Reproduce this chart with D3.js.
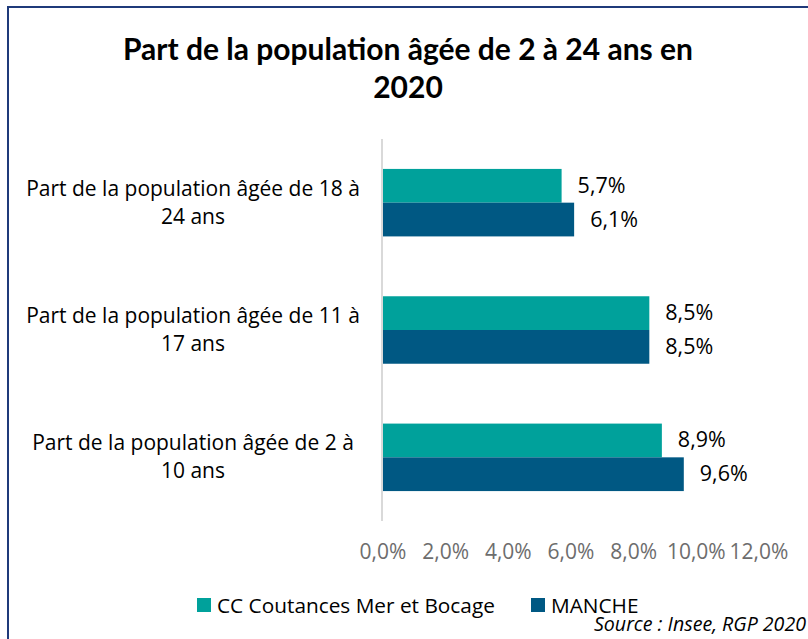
<!DOCTYPE html>
<meta charset="utf-8">
<html>
<head>
  <style>
  body { margin: 0; background: #fff; }
  text { font-family: "Open Sans", Lato, sans-serif; }
  text.title { font-family: Lato, sans-serif; font-weight: bold; font-size: 30px; fill: #000; }
  text.cat { font-size: 21px; fill: #000; }
  text.val { font-size: 21.5px; fill: #000; }
  text.tick { font-size: 21px; fill: #6d6d6d; }
  text.leg { font-size: 20.8px; fill: #000; }
  text.source { font-size: 19.6px; font-style: italic; fill: #000; }
  </style>
  <script src="https://cdn.jsdelivr.net/npm/d3@7"></script>
</head>
<body>
<div id="chart"></div>
<script type="text/javascript">
var width = 808, height = 639;

// Categories, top to bottom (each label split into two lines)
var categories = [
  ["Part de la population âgée de 18 à", "24 ans"],
  ["Part de la population âgée de 11 à", "17 ans"],
  ["Part de la population âgée de 2 à", "10 ans"]
];
var seriesNames = ["CC Coutances Mer et Bocage", "MANCHE"];
var coutances = [5.7, 8.5, 8.9];
var manche = [6.1, 8.5, 9.6];
var ticks = [0, 2, 4, 6, 8, 10, 12];
var colors = ["#00a19b", "#005883"];

var title = ["Part de la population âgée de 2 à 24 ans en", "2020"];
var source = "Source : Insee, RGP 2020";

var fmt = function(v) { return d3.format(".1f")(v).replace(".", ",") + "%"; };

var svg = d3.select("#chart").append("svg")
  .attr("width", width)
  .attr("height", height);

// Frame (only top and left visible in the crop)
svg.append("path")
  .attr("d", "M8," + height + "V7H" + width)
  .attr("fill", "none")
  .attr("stroke", "#1f3a7a")
  .attr("stroke-width", 2);

// Title
svg.selectAll(".title")
  .data(title)
  .enter().append("text")
  .attr("class", "title")
  .attr("x", 408)
  .attr("y", function(d, i) { return 60 + i * 38; })
  .attr("text-anchor", "middle")
  .text(function(d) { return d; });

var x = d3.scaleLinear().domain([0, 12]).range([383, 759]);
var y = d3.scaleBand().domain(d3.range(categories.length)).range([139, 521]).paddingInner(0.47).paddingOuter(0.235);
var sub = d3.scaleBand().domain([0, 1]).range([0, y.bandwidth()]);

// Axis line
svg.append("line")
  .attr("x1", 382).attr("x2", 382)
  .attr("y1", 139).attr("y2", 521)
  .attr("stroke", "#d9d9d9")
  .attr("stroke-width", 2);

// Tick labels
svg.selectAll(".tick")
  .data(ticks)
  .enter().append("text")
  .attr("class", "tick")
  .attr("x", function(d) { return x(d); })
  .attr("y", 559)
  .attr("text-anchor", "middle")
  .text(fmt);

// Category labels
var cat = svg.selectAll(".cat")
  .data(categories)
  .enter().append("text")
  .attr("class", "cat")
  .attr("text-anchor", "middle");
cat.selectAll("tspan")
  .data(function(d, i) { return d.map(function(t) { return { t: t, i: i }; }); })
  .enter().append("tspan")
  .attr("x", 193)
  .attr("y", function(d, j) { return y(d.i) + y.bandwidth() / 2 - 7 + j * 28; })
  .text(function(d) { return d.t; });

// Bars
var series = [coutances, manche];
series.forEach(function(vals, s) {
  svg.selectAll(".bar" + s)
    .data(vals)
    .enter().append("rect")
    .attr("class", "bar" + s)
    .attr("x", x(0))
    .attr("y", function(d, i) { return y(i) + sub(s); })
    .attr("width", function(d) { return x(d) - x(0); })
    .attr("height", sub.bandwidth())
    .attr("fill", colors[s]);

  svg.selectAll(".val" + s)
    .data(vals)
    .enter().append("text")
    .attr("class", "val")
    .attr("x", function(d) { return x(d) + 16; })
    .attr("y", function(d, i) { return y(i) + sub(s) + sub.bandwidth() / 2 + 7; })
    .text(fmt);
});

// Legend
var legX = [197, 531];
var leg = svg.selectAll(".legend")
  .data(seriesNames)
  .enter().append("g")
  .attr("class", "legend");
leg.append("rect")
  .attr("x", function(d, i) { return legX[i]; })
  .attr("y", 598)
  .attr("width", 14)
  .attr("height", 14)
  .attr("fill", function(d, i) { return colors[i]; });
leg.append("text")
  .attr("class", "leg")
  .attr("x", function(d, i) { return legX[i] + 20; })
  .attr("y", 613)
  .text(function(d) { return d; });

// Source
svg.append("text")
  .attr("class", "source")
  .attr("x", 806)
  .attr("y", 631)
  .attr("text-anchor", "end")
  .text(source);
</script>
</body>
</html>
